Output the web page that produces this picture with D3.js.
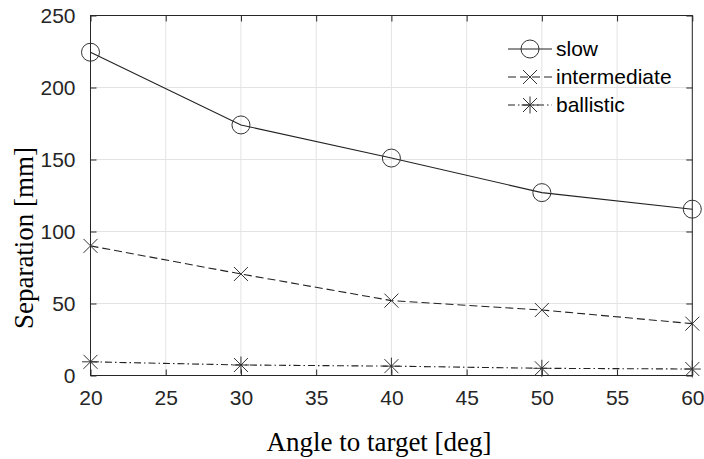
<!DOCTYPE html>
<meta charset="utf-8">
<title>Separation vs angle to target</title>
<style>
  body { margin: 0; background: #fff; }
</style>
<svg width="704" height="459"></svg>
<script src="https://d3js.org/d3.v7.min.js"></script>
<script>

var angles = [20, 30, 40, 50, 60];
var slow = [224.5, 174, 151, 127, 115.5];
var intermediate = [90, 70.5, 52, 45.5, 36];
var ballistic = [9.5, 7.3, 6.5, 5, 4.5];

var xTicks = [20, 25, 30, 35, 40, 45, 50, 55, 60];
var yTicks = [0, 50, 100, 150, 200, 250];

var series = [
  { name: "slow", values: slow, dash: null, marker: "circle" },
  { name: "intermediate", values: intermediate, dash: "8,4", marker: "cross" },
  { name: "ballistic", values: ballistic, dash: "7,3,1.5,3", marker: "star" }
];

var svg = d3.select("svg"),
    margin = { top: 15.5, right: 11.7, bottom: 83.5, left: 90.5 },
    width = +svg.attr("width") - margin.left - margin.right,
    height = +svg.attr("height") - margin.top - margin.bottom;

var axisColor = "#262626",
    tickFont = "'Liberation Sans', Arial, sans-serif",
    labelFont = "'Liberation Serif', 'Times New Roman', serif";

var x = d3.scaleLinear().domain([20, 60]).range([0, width]);
var y = d3.scaleLinear().domain([0, 250]).range([height, 0]);

var g = svg.append("g")
    .attr("transform", "translate(" + margin.left + "," + margin.top + ")");

// grid lines
g.append("g")
    .attr("stroke", "#e3e3e3")
    .attr("stroke-width", 1)
  .selectAll("line.vx")
  .data(xTicks)
  .enter().append("line")
    .attr("x1", function(d) { return x(d); })
    .attr("x2", function(d) { return x(d); })
    .attr("y1", 0)
    .attr("y2", height);

g.append("g")
    .attr("stroke", "#e3e3e3")
    .attr("stroke-width", 1)
  .selectAll("line.hy")
  .data(yTicks)
  .enter().append("line")
    .attr("x1", 0)
    .attr("x2", width)
    .attr("y1", function(d) { return y(d); })
    .attr("y2", function(d) { return y(d); });

// axes, ticks inside like matlab
function styleAxis(sel, showText) {
  sel.select(".domain").remove();
  sel.selectAll("line").attr("stroke", axisColor);
  sel.selectAll("text")
      .attr("fill", axisColor)
      .attr("font-family", tickFont)
      .attr("font-size", 21);
  if (!showText) sel.selectAll("text").remove();
}

g.append("g")
    .attr("transform", "translate(0," + height + ")")
    .call(d3.axisBottom(x).tickValues(xTicks).tickSize(-6).tickPadding(15))
    .call(styleAxis, true);

g.append("g")
    .call(d3.axisTop(x).tickValues(xTicks).tickSize(-6))
    .call(styleAxis, false);

g.append("g")
    .call(d3.axisLeft(y).tickValues(yTicks).tickSize(-6).tickPadding(15))
    .call(styleAxis, true);

g.append("g")
    .attr("transform", "translate(" + width + ",0)")
    .call(d3.axisRight(y).tickValues(yTicks).tickSize(-6))
    .call(styleAxis, false);

g.append("rect")
    .attr("width", width)
    .attr("height", height)
    .attr("fill", "none")
    .attr("stroke", axisColor)
    .attr("stroke-width", 1);

// markers
function drawMarker(sel, type) {
  if (type === "circle") {
    sel.append("circle").attr("r", 9);
  } else if (type === "cross") {
    sel.append("path").attr("d", "M-7,-7L7,7M-7,7L7,-7");
  } else {
    sel.append("path").attr("d", "M-7,-7L7,7M-7,7L7,-7M0,-8.5V8.5M-8.5,0H8.5");
  }
}

var line = d3.line()
    .x(function(d, i) { return x(angles[i]); })
    .y(function(d) { return y(d); });

series.forEach(function(s) {
  g.append("path")
      .datum(s.values)
      .attr("fill", "none")
      .attr("stroke", "#222")
      .attr("stroke-width", 1.1)
      .attr("stroke-dasharray", s.dash)
      .attr("d", line);

  g.append("g")
    .selectAll("g")
    .data(s.values)
    .enter().append("g")
      .attr("transform", function(d, i) { return "translate(" + x(angles[i]) + "," + y(d) + ")"; })
      .attr("fill", "none")
      .attr("stroke", "#333")
      .attr("stroke-width", 1)
      .each(function() { drawMarker(d3.select(this), s.marker); });
});

// legend (no box)
var legend = svg.append("g")
    .attr("transform", "translate(508,49)");

var row = legend.selectAll("g")
    .data(series)
  .enter().append("g")
    .attr("transform", function(d, i) { return "translate(0," + i * 28 + ")"; });

row.append("line")
    .attr("x1", 0)
    .attr("x2", 44)
    .attr("stroke", "#222")
    .attr("stroke-width", 1.1)
    .attr("stroke-dasharray", function(d) { return d.dash; });

row.append("g")
    .attr("transform", "translate(22,0)")
    .attr("fill", "none")
    .attr("stroke", "#333")
    .each(function(d) { drawMarker(d3.select(this), d.marker); });

row.append("text")
    .attr("x", 48)
    .attr("dy", "0.35em")
    .attr("font-family", tickFont)
    .attr("font-size", 21)
    .attr("fill", "#000")
    .text(function(d) { return d.name; });

// axis titles
svg.append("text")
    .attr("x", 379)
    .attr("y", 451)
    .attr("text-anchor", "middle")
    .attr("font-family", labelFont)
    .attr("font-size", 27)
    .attr("fill", "#000")
    .text("Angle to target [deg]");

svg.append("text")
    .attr("transform", "translate(33,238) rotate(-90)")
    .attr("text-anchor", "middle")
    .attr("font-family", labelFont)
    .attr("font-size", 27)
    .attr("fill", "#000")
    .text("Separation [mm]");

</script>
